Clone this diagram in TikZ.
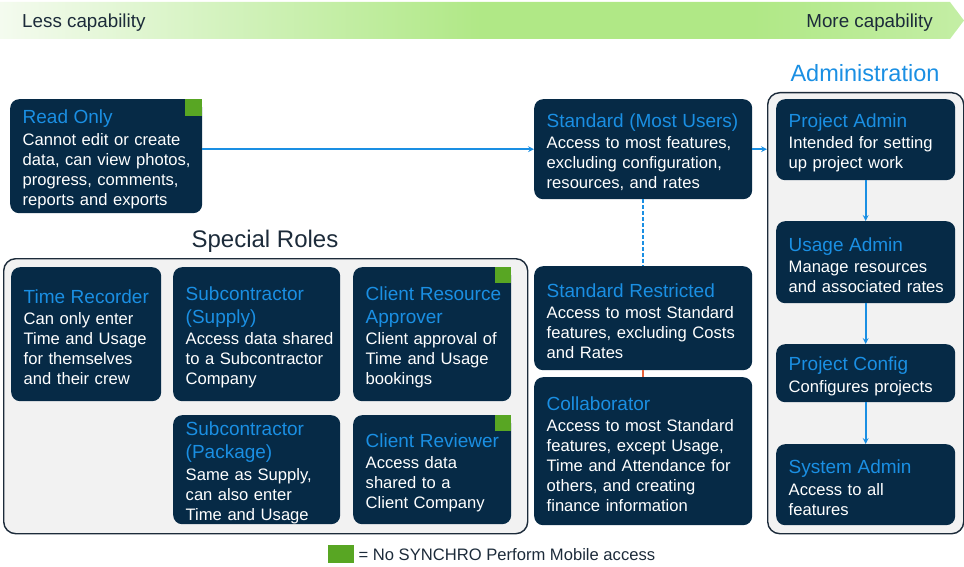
\documentclass[tikz,border=0pt]{standalone}
\usepackage{fontspec}
\setmainfont{Liberation Sans}

\definecolor{navy}{HTML}{062A46}
\definecolor{rtitle}{HTML}{1A8FE3}
\definecolor{nomob}{HTML}{58A623}
\definecolor{panel}{HTML}{F2F2F2}
\definecolor{ink}{HTML}{1C2B3A}
\definecolor{restrict}{HTML}{E8643C}
\definecolor{capa}{HTML}{F4FBEF}
\definecolor{capb}{HTML}{D2F2BC}
\definecolor{capc}{HTML}{B0E886}
\definecolor{capd}{HTML}{C4EEA5}
\pgfdeclarehorizontalshading{capshade}{100bp}{color(0bp)=(capa); color(25bp)=(capa); color(37bp)=(capb); color(50bp)=(capc); color(64bp)=(capc); color(75bp)=(capd); color(100bp)=(capd)}

\newcommand\roletitlefont{\fontsize{19}{23}\selectfont}
\newcommand\rolebodyfont{\fontsize{16.6}{20}\selectfont}
\newcommand\role[2]{{\color{rtitle}\roletitlefont #1\par}\vspace{1.5pt}#2\par\vspace{-6pt}}

\tikzset{
  role/.style={fill=navy, rounded corners=9pt, inner xsep=0pt, inner ysep=0pt,
    text width=#1, align=left, anchor=north west, text=white, font=\rolebodyfont,
    execute at begin node={\leftskip=12.5pt}},
  group/.style={fill=panel, draw=ink, line width=1.4pt, rounded corners=12pt,
    anchor=north west, inner sep=0pt},
  link/.style={draw=rtitle, line width=1.6pt},
  heading/.style={text=ink, font=\fontsize{24}{28}\selectfont, inner sep=0pt},
}

\begin{document}
\begin{tikzpicture}[x=1pt,y=-1pt,>=stealth]
\useasboundingbox (0,0) rectangle (964,567);
\shade[shading=capshade] (0,2) -- (950,2) -- (964,20.5) -- (950,39) -- (0,39) -- cycle;
\node[anchor=west, inner sep=0pt, text=ink, font=\fontsize{18.8}{22}\selectfont] (less) at (22,22.5) {Less capability};
\node[anchor=east, inner sep=0pt, text=ink, font=\fontsize{18.8}{22}\selectfont] (more) at (933,22.5) {More capability};

\node[group, minimum width=524, minimum height=275] (sprl) at (3,258) {};
\node[heading] (sprltitle) at (265,241) {Special Roles};
\node[group, minimum width=196, minimum height=441] (adm) at (767,92) {};
\node[heading, text=rtitle, font=\fontsize{23.5}{28}\selectfont] (admtitle) at (865,73) {Administration};

\node[role=192, minimum height=114] (ro) at (10,99) {\role{Read Only}{Cannot edit or create\\data, can view photos,\\progress, comments,\\reports and exports}};
\node[role=218, minimum height=100] (std) at (534,99) {\role{Standard (Most Users)}{Access to most features,\\excluding configuration,\\resources, and rates}};
\node[role=218, minimum height=104] (sr) at (534,266) {\role{Standard Restricted}{Access to most Standard\\features, excluding Costs\\and Rates}};
\node[role=218, minimum height=148] (col) at (534,377) {\role{Collaborator}{Access to most Standard\\features, except Usage,\\Time and Attendance for\\others, and creating\\finance information}};

\node[role=179, minimum height=81] (pa) at (776,99) {\role{Project Admin}{Intended for setting\\up project work}};
\node[role=179, minimum height=82] (ua) at (776,221) {\role{Usage Admin}{Manage resources\\and associated rates}};
\node[role=179, minimum height=58] (pc) at (776,344) {\role{Project Config}{Configures projects}};
\node[role=179, minimum height=81] (sa) at (776,444) {\role{System Admin}{Access to all\\features}};

\node[role=150, minimum height=134] (tr) at (11,267) {\role{Time Recorder}{Can only enter\\Time and Usage\\for themselves\\and their crew}};
\node[role=167, minimum height=134] (sup) at (173,267) {\role{Subcontractor\\(Supply)}{Access data shared\\to a Subcontractor\\Company}};
\node[role=158, minimum height=134] (cra) at (353,267) {\role{Client Resource\\Approver}{Client approval of\\Time and Usage\\bookings}};
\node[role=167, minimum height=109] (pkg) at (173,415) {\role{Subcontractor\\(Package)}{Same as Supply,\\can also enter\\Time and Usage}};
\node[role=158, minimum height=109] (crv) at (353,415) {\role{Client Reviewer}{Access data\\shared to a\\Client Company}};

\fill[nomob] (ro.north east) rectangle ++(-17,17);
\fill[nomob] (cra.north east) rectangle ++(-16,16);
\fill[nomob] (crv.north east) rectangle ++(-16,16);

\draw[link,->] (ro.east |- std.west) -- (std.west);
\draw[link,->] (std.east) -- (std.east -| adm.west);
\draw[link, dash pattern=on 4pt off 2pt] (std.south) -- (sr.north);
\draw[restrict, line width=1.6pt] (sr.south) -- (col.north);
\draw[link,->] (pa.south) -- (ua.north);
\draw[link,->] (ua.south) -- (pc.north);
\draw[link,->] (pc.south) -- (sa.north);

\node[fill=nomob, minimum width=26, minimum height=18, inner sep=0pt, anchor=north west] (key) at (328,545) {};
\node[anchor=west, inner sep=0pt, xshift=4pt, text=ink, font=\rolebodyfont] (keytext) at (key.east) {= No SYNCHRO Perform Mobile access};
\end{tikzpicture}
\end{document}
